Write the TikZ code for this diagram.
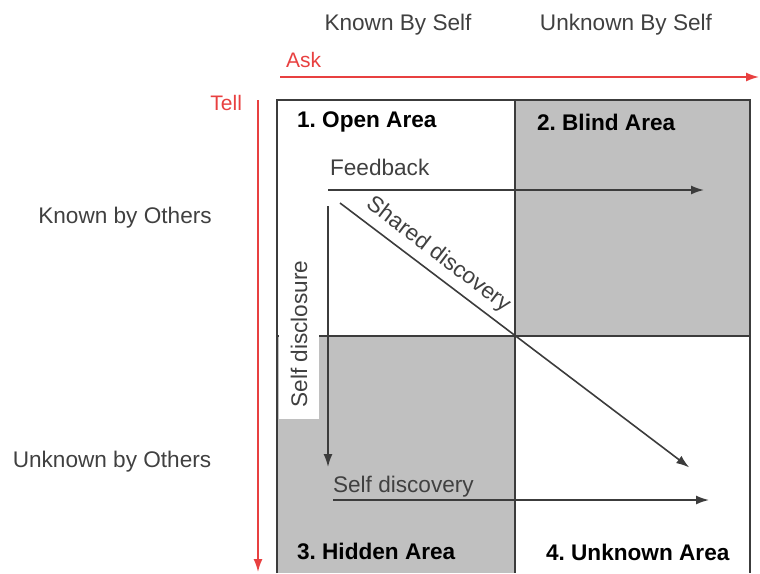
\documentclass[tikz,border=0pt]{standalone}
\usepackage{fontspec}
\setmainfont{Liberation Sans}
\usepackage{tikz}
\usetikzlibrary{calc,arrows.meta}
\definecolor{paneGray}{RGB}{192,192,192}
\definecolor{lineGray}{RGB}{60,60,60}
\definecolor{askRed}{RGB}{232,64,64}
\tikzset{every edge/.style={shorten >=0.5pt, draw=lineGray, line width=0.8pt}}
\tikzset{>={Latex[length=6.5pt, width=4.5pt]}}
\tikzset{areatitle/.style={font=\fontsize{11.3}{13}\selectfont\bfseries, text=black}}
\tikzset{axislabel/.style={font=\fontsize{11.3}{13}\selectfont, text=black!75}}
\tikzset{redlabel/.style={font=\fontsize{10.5}{12}\selectfont, text=askRed}}

\begin{document}
\begin{tikzpicture}[x=0.5pt, y=-0.5pt]
    \path[use as bounding box] (0, 0) rectangle (760, 573);

    % the four panes
    \fill[paneGray] (515, 100) rectangle (750, 336);
    \fill[paneGray] (277, 336) rectangle (515, 573);
    \draw[lineGray, line width=1pt] (277, 573) -- (277, 100) -- (750, 100) -- (750, 573);
    \draw[lineGray, line width=1pt] (515, 100) -- (515, 573);
    \draw[lineGray, line width=1pt] (277, 336) -- (750, 336);

    \node[axislabel] at (398, 25) (kself) {Known By Self};
    \node[axislabel] at (626, 25) (uself) {Unknown By Self};
    \node[axislabel] at (125, 218) (kothers) {Known by Others};
    \node[axislabel] at (112, 462) (uothers) {Unknown by Others};

    \node[redlabel, anchor=west] at (279, 60) (ask) {Ask};
    \node[redlabel, anchor=east] at (249, 103) (tell) {Tell};
    \coordinate (askL) at (280, 77);
    \coordinate (askR) at (760, 77);
    \coordinate (tellT) at (258, 100);
    \coordinate (tellB) at (258, 573);

    \node[areatitle, anchor=west] at (290, 122) (open) {1.\ Open Area};
    \node[areatitle, anchor=west] at (530, 122) (blind) {2.\ Blind Area};
    \node[areatitle, anchor=west] at (290, 551) (hidden) {3.\ Hidden Area};
    \node[areatitle, anchor=west] at (539, 552) (unknown) {4.\ Unknown Area};

    \node[axislabel, anchor=west] at (323, 167) (feedback) {Feedback};
    \node[axislabel, anchor=west] at (326, 487) (selfdisc) {Self discovery};
    \node[axislabel, rotate=90, fill=white, inner sep=6pt] at (299, 334) (disclose) {Self disclosure};

    \coordinate (fbA) at (328, 190);
    \coordinate (fbB) at (705, 190);
    \coordinate (sdA) at (328, 206);
    \coordinate (sdB) at (328, 468);
    \coordinate (shA) at (340, 203);
    \coordinate (shB) at (690, 468);
    \coordinate (sdiA) at (333, 500);
    \coordinate (sdiB) at (710, 500);

    \draw (askL) edge[->, draw=askRed] (askR);
    \draw (tellT) edge[->, draw=askRed] (tellB);
    \draw (fbA) edge[->] (fbB);
    \draw (sdA) edge[->] (sdB);
    \draw (shA) edge[->] node[axislabel, sloped, above, pos=0.25] {Shared discovery} (shB);
    \draw (sdiA) edge[->] (sdiB);
\end{tikzpicture}
\end{document}
